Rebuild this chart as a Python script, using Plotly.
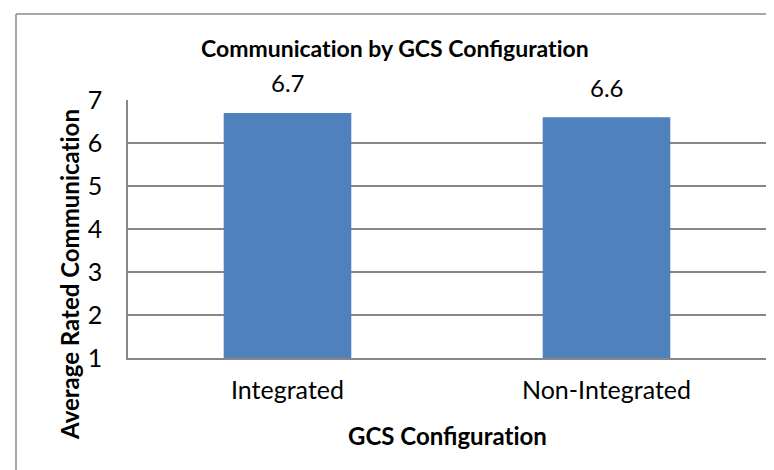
import plotly.graph_objects as go

categories = ["Integrated", "Non-Integrated"]
values = [6.7, 6.6]
value_labels = ["6.7", "6.6"]
y_ticks = [1, 2, 3, 4, 5, 6, 7]

FONT = "Lato"
GRID = "#878787"
ZW = "\u200c"  # break the Lato "ti" ligature so widths match Calibri-like text


def noliga(s):
    return s.replace("ti", "t" + ZW + "i")


fig = go.Figure()
fig.add_trace(go.Bar(
    x=categories, y=values,
    marker=dict(color="#4F81BD", line=dict(width=0)),
    width=0.4,
    hoverinfo="skip",
))

for c, v, t in zip(categories, values, value_labels):
    fig.add_annotation(x=c, y=v, xref="x", yref="y", text=t, showarrow=False,
                       yshift=30, yanchor="middle",
                       font=dict(family=FONT, size=24, color="#000"))

L, R, T, B = 120, 16, 92, 120
W, H = 774, 470
pw, ph = W - L - R, H - T - B


def px(xp):
    return (xp - L) / pw


def py(yp):
    return (H - B - yp) / ph


# outer chart frame (top and left edges visible)
fig.add_shape(type="line", xref="paper", yref="paper",
              x0=px(8), x1=px(780), y0=py(6), y1=py(6),
              line=dict(color="#8a8a8a", width=1.5))
fig.add_shape(type="line", xref="paper", yref="paper",
              x0=px(8), x1=px(8), y0=py(6), y1=py(480),
              line=dict(color="#8a8a8a", width=1.5))

fig.add_annotation(xref="paper", yref="paper", x=px(387), y=py(40),
                   text="<b>" + noliga("Communication by GCS Configuration") + "</b>",
                   showarrow=False, xanchor="center", yanchor="middle",
                   font=dict(family=FONT, size=23, color="#000"))
fig.add_annotation(xref="paper", yref="paper", x=px(61), y=py(267),
                   text="<b>" + noliga("Average Rated Communication") + "</b>",
                   showarrow=False, textangle=-90, xanchor="center", yanchor="middle",
                   font=dict(family=FONT, size=24, color="#000"))
fig.add_annotation(xref="paper", yref="paper", x=px(440), y=py(427),
                   text="<b>" + noliga("GCS Configuration") + "</b>",
                   showarrow=False, xanchor="center", yanchor="middle",
                   font=dict(family=FONT, size=24, color="#000"))

fig.update_layout(
    width=W, height=H,
    margin=dict(l=L, r=R, t=T, b=B),
    paper_bgcolor="white", plot_bgcolor="white",
    showlegend=False,
    bargap=0.6,
    font=dict(family=FONT, size=24, color="#000"),
)
fig.update_xaxes(showline=True, linecolor=GRID, linewidth=1.5,
                 showgrid=False, ticks="", ticklabelstandoff=9,
                 tickfont=dict(family=FONT, size=25, color="#000"))
fig.update_yaxes(range=[1, 7], tickvals=y_ticks, showline=True, linecolor=GRID,
                 linewidth=1.5, showgrid=True, gridcolor=GRID, gridwidth=1.5,
                 zeroline=False, ticks="", ticklabelstandoff=19,
                 tickfont=dict(family=FONT, size=25, color="#000"))

fig.write_html("out.html")
